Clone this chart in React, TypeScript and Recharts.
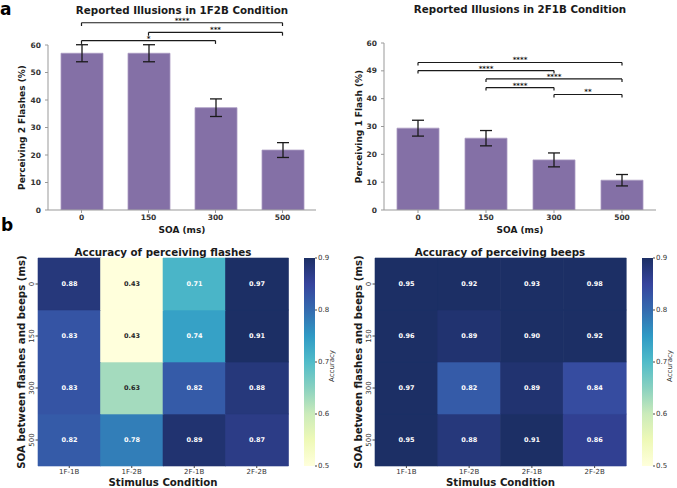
import React from "react";
import { BarChart, Bar, XAxis, YAxis, ErrorBar, ReferenceLine, Cell, LabelList } from "recharts";

// panel a: reported illusions (%)
const soa = ["0", "150", "300", "500"];
const twoFlashPct = [57, 57, 37.2, 21.8];
const twoFlashErr = [3.1, 3.1, 3.2, 2.7];
const oneFlashPct = [29.4, 25.8, 18.0, 10.7];
const oneFlashErr = [2.85, 2.75, 2.5, 2.05];
const pctTicks = [0, 10, 20, 30, 40, 50, 60];
const pctLabelsA = ["0", "10", "20", "30", "40", "50", "60"];
const pctLabelsB = ["0", "10", "20", "30", "40", "49", "60"];

const bracketsA = [
  { from: "0", to: "500", y: 68.1, stars: "****" },
  { from: "150", to: "500", y: 64.6, stars: "***" },
  { from: "0", to: "300", y: 61.6, stars: "*" },
];
const bracketsB = [
  { from: "0", to: "500", y: 53.0, stars: "****" },
  { from: "0", to: "300", y: 50.1, stars: "****" },
  { from: "150", to: "500", y: 47.1, stars: "****" },
  { from: "150", to: "300", y: 44.0, stars: "****" },
  { from: "300", to: "500", y: 41.5, stars: "**" },
];

// panel b: accuracy, rows = SOA (0,150,300,500), cols = conditions
const conditions = ["1F-1B", "1F-2B", "2F-1B", "2F-2B"];
const flashAcc = [
  [0.88, 0.43, 0.71, 0.97],
  [0.83, 0.43, 0.74, 0.91],
  [0.83, 0.63, 0.82, 0.88],
  [0.82, 0.78, 0.89, 0.87],
];
const beepAcc = [
  [0.95, 0.92, 0.93, 0.98],
  [0.96, 0.89, 0.9, 0.92],
  [0.97, 0.82, 0.89, 0.84],
  [0.95, 0.88, 0.91, 0.86],
];
const colorTicks = [0.5, 0.6, 0.7, 0.8, 0.9];

const FONT = "DejaVu Sans, Verdana, sans-serif";
const PURPLE = "#8470a6";
const INK = "#1a1a1a";
// YlGnBu, nudged a little toward white like the scanned figure
const YLGNBU = ["#ffffd9", "#edf8b1", "#c7e9b4", "#7fcdbb", "#41b6c4", "#1d91c0", "#225ea8", "#253494", "#081d58"];
const WASH = 0.08;

function hexRgb(h: string) {
  return [1, 3, 5].map((i) => parseInt(h.slice(i, i + 2), 16));
}

function washed(rgb: number[]) {
  return rgb.map((x) => Math.round(x + (255 - x) * WASH));
}

function ylgnbuRgb(v: number) {
  const lo = colorTicks[0];
  const hi = colorTicks[colorTicks.length - 1];
  const t = Math.min(1, Math.max(0, (v - lo) / (hi - lo))) * (YLGNBU.length - 1);
  const i = Math.min(YLGNBU.length - 2, Math.floor(t));
  const f = t - i;
  const a = hexRgb(YLGNBU[i]);
  const b = hexRgb(YLGNBU[i + 1]);
  return washed(a.map((x, k) => x + (b[k] - x) * f));
}

function ylgnbu(v: number) {
  const c = ylgnbuRgb(v);
  return `rgb(${c[0]},${c[1]},${c[2]})`;
}

// seaborn picks dark annotation text on light cells
function annotColor(v: number) {
  const lin = ylgnbuRgb(v).map((x) => {
    const s = x / 255;
    return s <= 0.03928 ? s / 12.92 : Math.pow((s + 0.055) / 1.055, 2.4);
  });
  const lum = 0.2126 * lin[0] + 0.7152 * lin[1] + 0.0722 * lin[2];
  return lum > 0.408 ? "#262626" : "#ffffff";
}

function bracketLines(b: any, tip: number, key: number) {
  const common = { stroke: INK, strokeWidth: 1.2, ifOverflow: "visible" as const };
  return [
    <ReferenceLine
      key={`h${key}`}
      {...common}
      segment={[{ x: b.from, y: b.y }, { x: b.to, y: b.y }]}
      label={{ value: b.stars, position: "top", offset: 0, fontSize: 7, fontWeight: "bold", fill: INK }}
    />,
    <ReferenceLine key={`l${key}`} {...common} segment={[{ x: b.from, y: b.y }, { x: b.from, y: b.y - tip }]} />,
    <ReferenceLine key={`r${key}`} {...common} segment={[{ x: b.to, y: b.y }, { x: b.to, y: b.y - tip }]} />,
  ];
}

function BarPanel({ left, margin, yWidth, values, errors, tickLabels, brackets, tip, yLabel, labelDx }: any) {
  const data = soa.map((s, i) => ({ soa: s, pct: values[i], err: errors[i] }));
  return (
    <div style={{ position: "absolute", left, top: 0 }}>
      <BarChart width={340} height={240} data={data} margin={margin}>
        <XAxis
          dataKey="soa"
          height={30}
          stroke="#999"
          tickSize={3}
          tickMargin={2}
          tick={{ fontSize: 7.5, fontWeight: "bold", fill: "#333" }}
          label={{ value: "SOA (ms)", position: "insideBottom", offset: 7, fontSize: 9, fontWeight: "bold", fill: INK }}
        />
        <YAxis
          type="number"
          domain={[0, 60]}
          ticks={pctTicks}
          allowDataOverflow
          width={yWidth}
          stroke="#999"
          tickSize={3}
          tickMargin={4}
          tick={{ fontSize: 7.5, fontWeight: "bold", fill: "#333" }}
          tickFormatter={(v) => tickLabels[pctTicks.indexOf(Number(v))]}
          label={{ value: yLabel, angle: -90, position: "center", dx: labelDx, fontSize: 9, fontWeight: "bold", fill: INK }}
        />
        <Bar dataKey="pct" fill={PURPLE} stroke="#a999c2" strokeWidth={0.8} barSize={42} isAnimationActive={false}>
          <ErrorBar dataKey="err" width={6} stroke={INK} strokeWidth={1.3} direction="y" />
        </Bar>
        {brackets.flatMap((b: any, i: number) => bracketLines(b, tip, i))}
      </BarChart>
    </div>
  );
}

function RotTick(props: any) {
  const { x, y, payload } = props;
  const label = soa[soa.length - 1 - Math.floor(payload.value)];
  return (
    <text x={x} y={y} transform={`rotate(-90, ${x}, ${y})`} textAnchor="middle" fontSize={7} fill="#333">
      {label}
    </text>
  );
}

function Heatmap({ left, acc, rightMargin }: any) {
  const data = conditions.map((c) => ({ cond: c, ...Object.fromEntries(soa.map((s) => ["s" + s, 1])) }));
  const bottomUp = [...soa].reverse();
  return (
    <div style={{ position: "absolute", left, top: 240 }}>
      <BarChart
        width={300}
        height={248}
        data={data}
        margin={{ top: 18, right: rightMargin, bottom: 0, left: 0 }}
        barCategoryGap={0}
        barGap={0}
      >
        <XAxis
          dataKey="cond"
          height={22}
          axisLine={false}
          tickSize={2}
          tickMargin={1.5}
          tickLine={{ stroke: "#444" }}
          tick={{ fontSize: 7, fill: "#333" }}
          label={{ value: "Stimulus Condition", position: "insideBottom", offset: 2, fontSize: 10.2, fontWeight: "bold", fill: INK }}
        />
        <YAxis
          type="number"
          domain={[0, soa.length]}
          ticks={soa.map((_, i) => i + 0.5)}
          width={38}
          axisLine={false}
          tickSize={2.5}
          tickMargin={2}
          tickLine={{ stroke: "#444" }}
          tick={<RotTick />}
          label={{
            value: "SOA between flashes and beeps (ms)",
            angle: -90,
            position: "center",
            dx: 2,
            fontSize: 10.2,
            fontWeight: "bold",
            fill: INK,
          }}
        />
        {bottomUp.map((s) => {
          const r = soa.indexOf(s);
          return (
            <Bar key={s} dataKey={"s" + s} stackId="h" isAnimationActive={false}>
              {conditions.map((c, i) => (
                <Cell key={c} fill={ylgnbu(acc[r][i])} stroke={ylgnbu(acc[r][i])} strokeWidth={0.6} />
              ))}
              <LabelList
                content={(p: any) => {
                  const v = acc[r][p.index];
                  return (
                    <text
                      x={p.x + p.width / 2}
                      y={p.y + p.height / 2}
                      textAnchor="middle"
                      dominantBaseline="central"
                      fontSize={6.5}
                      fontWeight="bold"
                      fill={annotColor(v)}
                    >
                      {v.toFixed(2)}
                    </text>
                  );
                }}
              />
            </Bar>
          );
        })}
      </BarChart>
    </div>
  );
}

function Colorbar({ left, id }: any) {
  const lo = colorTicks[0];
  const hi = colorTicks[colorTicks.length - 1];
  return (
    <div style={{ position: "absolute", left, top: 240 }}>
      <BarChart
        width={60}
        height={248}
        data={[{ name: "cb", range: [lo, hi] }]}
        margin={{ top: 18, right: 0, bottom: 22, left: 4 }}
        barCategoryGap={0}
      >
        <defs>
          <linearGradient id={id} x1="0" y1="1" x2="0" y2="0">
            {YLGNBU.map((c, i) => {
              const w = washed(hexRgb(c));
              return (
                <stop key={i} offset={`${(i / (YLGNBU.length - 1)) * 100}%`} stopColor={`rgb(${w[0]},${w[1]},${w[2]})`} />
              );
            })}
          </linearGradient>
        </defs>
        <XAxis dataKey="name" hide />
        <YAxis
          orientation="right"
          type="number"
          domain={[lo, hi]}
          ticks={colorTicks}
          width={45}
          axisLine={false}
          tickSize={2}
          tickMargin={1}
          tickLine={{ stroke: "#444" }}
          tick={{ fontSize: 7, fill: "#333" }}
          tickFormatter={(v) => Number(v).toFixed(1)}
          label={{ value: "Accuracy", angle: -90, position: "center", dx: -6, dy: 4, fontSize: 7, fill: "#333" }}
        />
        <Bar dataKey="range" fill={`url(#${id})`} isAnimationActive={false} />
      </BarChart>
    </div>
  );
}

function Title({ cx, cy, children }: any) {
  return (
    <div
      style={{
        position: "absolute",
        left: cx - 160,
        width: 320,
        top: cy - 7,
        height: 14,
        lineHeight: "14px",
        textAlign: "center",
        fontSize: 10.3,
        fontWeight: "bold",
        color: INK,
      }}
    >
      {children}
    </div>
  );
}

export default function App() {
  return (
    <div
      style={{
        position: "absolute",
        left: 0,
        top: 0,
        width: 677,
        height: 488,
        background: "#fff",
        fontFamily: FONT,
        overflow: "hidden",
      }}
    >
      <BarPanel
        left={0}
        margin={{ top: 45, right: 24, bottom: 0, left: 0 }}
        yWidth={48}
        values={twoFlashPct}
        errors={twoFlashErr}
        tickLabels={pctLabelsA}
        brackets={bracketsA}
        tip={1.2}
        yLabel="Perceiving 2 Flashes (%)"
        labelDx={-2}
      />
      <BarPanel
        left={337}
        margin={{ top: 43, right: 21, bottom: 0, left: 0 }}
        yWidth={47}
        values={oneFlashPct}
        errors={oneFlashErr}
        tickLabels={pctLabelsB}
        brackets={bracketsB}
        tip={1.1}
        yLabel="Perceiving 1 Flash (%)"
        labelDx={-1.5}
      />
      <Heatmap left={0} acc={flashAcc} rightMargin={12} />
      <Colorbar left={300} id="cbFlash" />
      <Heatmap left={337} acc={beepAcc} rightMargin={11} />
      <Colorbar left={638} id="cbBeep" />

      <Title cx={182} cy={10}>Reported Illusions in 1F2B Condition</Title>
      <Title cx={520} cy={9}>Reported Illusions in 2F1B Condition</Title>
      <Title cx={163} cy={252}>Accuracy of perceiving flashes</Title>
      <Title cx={500} cy={252}>Accuracy of perceiving beeps</Title>

      <div style={{ position: "absolute", left: 0, top: -1, fontSize: 17, fontWeight: "bold", color: "#000" }}>a</div>
      <div style={{ position: "absolute", left: 1, top: 215, fontSize: 17, fontWeight: "bold", color: "#000" }}>b</div>
    </div>
  );
}
